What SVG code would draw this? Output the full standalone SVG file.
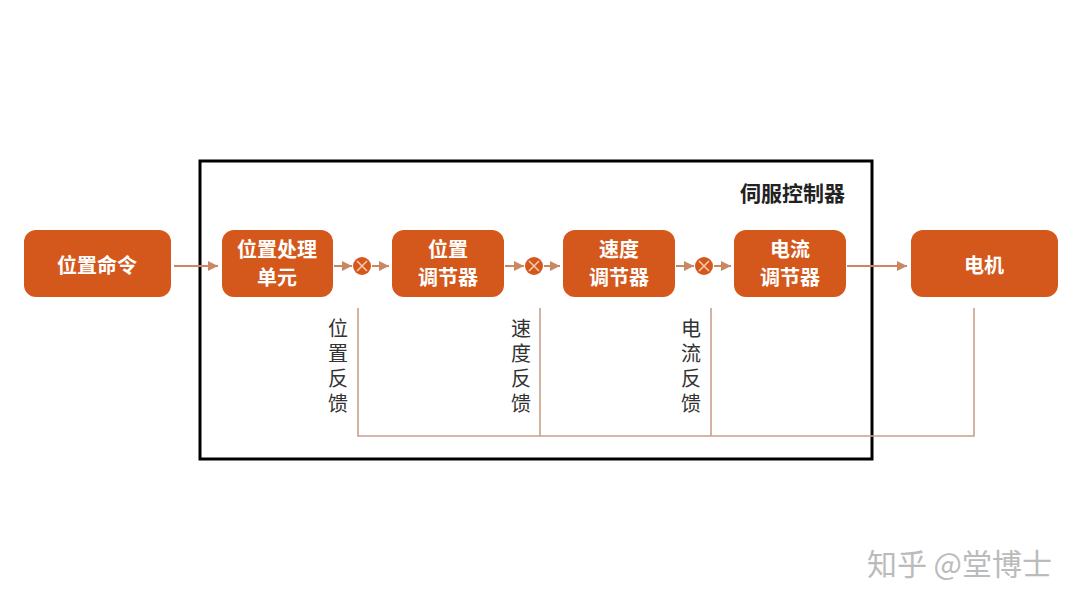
<svg xmlns="http://www.w3.org/2000/svg" width="1080" height="607" viewBox="0 0 1080 607">
<style>
.box{fill:#D4581C}
.bt{font-family:"Noto Sans CJK SC",sans-serif;font-size:20px;fill:#fff;text-anchor:middle;font-weight:bold}
.fb{font-family:"Noto Sans CJK SC",sans-serif;font-size:20px;fill:#333;writing-mode:vertical-rl;letter-spacing:5px}
.ln{stroke:#C98762;stroke-width:2;fill:none}
.fl{stroke:#C9A08A;stroke-width:1.6;fill:none}
.x{stroke:#F6C7A8;stroke-width:1.6}
</style>
<defs><marker id="a" viewBox="0 0 10 10" refX="10" refY="5" markerWidth="5" markerHeight="5" orient="auto"><path d="M0,0L10,5L0,10z" fill="#C98762"/></marker></defs>
<rect width="1080" height="607" fill="#fff"/>
<rect x="200" y="161" width="672" height="298" fill="none" stroke="#000" stroke-width="3"/>
<text x="845" y="201" font-family="Noto Sans CJK SC,sans-serif" font-size="21" font-weight="bold" text-anchor="end" fill="#222">伺服控制器</text>
<g id="connectors">
<line class="ln" x1="174" y1="266" x2="218" y2="266" marker-end="url(#a)"/>
<line class="ln" x1="334" y1="266" x2="352" y2="266" marker-end="url(#a)"/>
<line class="ln" x1="372" y1="266" x2="389" y2="266" marker-end="url(#a)"/>
<line class="ln" x1="505" y1="266" x2="524" y2="266" marker-end="url(#a)"/>
<line class="ln" x1="544" y1="266" x2="560" y2="266" marker-end="url(#a)"/>
<line class="ln" x1="676" y1="266" x2="694" y2="266" marker-end="url(#a)"/>
<line class="ln" x1="714" y1="266" x2="731" y2="266" marker-end="url(#a)"/>
<line class="ln" x1="847" y1="266" x2="907" y2="266" marker-end="url(#a)"/>
<path class="fl" d="M358,308V436H974V308M540,308V436M711,308V436"/>
</g>
<g id="n1"><rect class="box" x="24" y="230" width="147" height="67" rx="12"/><text class="bt" x="97" y="273">位置命令</text></g>
<g id="n2"><rect class="box" x="222" y="230" width="111" height="67" rx="12"/><text class="bt" x="277" y="257">位置处理</text><text class="bt" x="277" y="285">单元</text></g>
<g id="n3"><rect class="box" x="392" y="230" width="112" height="67" rx="12"/><text class="bt" x="448" y="257">位置</text><text class="bt" x="448" y="285">调节器</text></g>
<g id="n4"><rect class="box" x="563" y="230" width="112" height="67" rx="12"/><text class="bt" x="619" y="257">速度</text><text class="bt" x="619" y="285">调节器</text></g>
<g id="n5"><rect class="box" x="734" y="230" width="112" height="67" rx="12"/><text class="bt" x="790" y="257">电流</text><text class="bt" x="790" y="285">调节器</text></g>
<g id="n6"><rect class="box" x="911" y="230" width="147" height="67" rx="12"/><text class="bt" x="984" y="273">电机</text></g>
<g id="s1"><circle class="box" cx="362" cy="266" r="9"/><path class="x" d="M357,261l10,10M367,261l-10,10"/></g>
<g id="s2"><circle class="box" cx="534" cy="266" r="9"/><path class="x" d="M529,261l10,10M539,261l-10,10"/></g>
<g id="s3"><circle class="box" cx="704" cy="266" r="9"/><path class="x" d="M699,261l10,10M709,261l-10,10"/></g>
<text id="f1" class="fb" x="338" y="318">位置反馈</text>
<text id="f2" class="fb" x="521" y="318">速度反馈</text>
<text id="f3" class="fb" x="691" y="318">电流反馈</text>
<text x="1052" y="575" font-family="Noto Sans CJK SC,sans-serif" font-size="30" text-anchor="end" fill="#bbb">知乎 @堂博士</text>
</svg>
